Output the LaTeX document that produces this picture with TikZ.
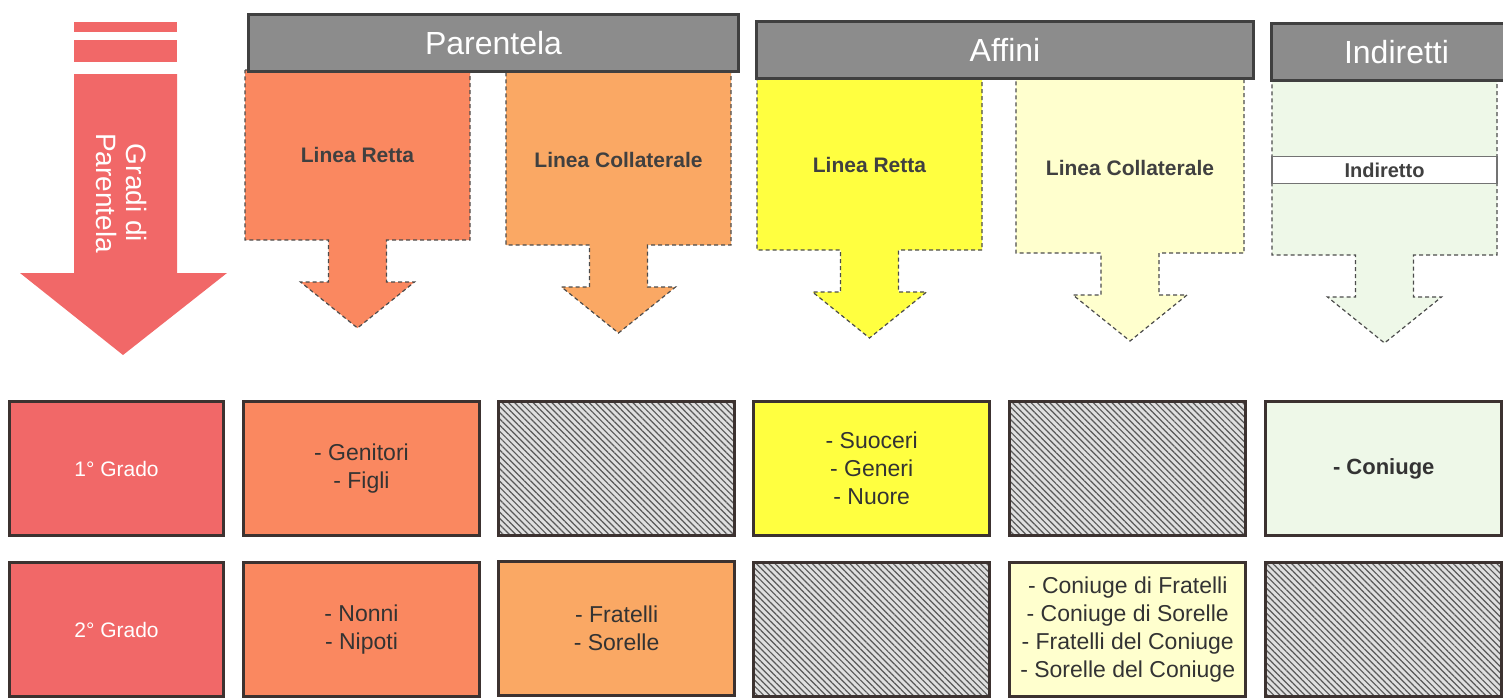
\documentclass[tikz,border=0pt]{standalone}
\usepackage{fontspec}
\setmainfont{Liberation Sans}
\usetikzlibrary{positioning,patterns.meta}

\definecolor{gradred}{RGB}{241,104,104}
\definecolor{rettared}{RGB}{250,136,96}
\definecolor{collorange}{RGB}{250,168,100}
\definecolor{affyellow}{RGB}{255,255,64}
\definecolor{afflight}{RGB}{255,255,206}
\definecolor{indgreen}{RGB}{238,248,232}
\definecolor{headgray}{RGB}{140,140,140}
\definecolor{boxline}{RGB}{60,50,48}

\tikzset{
  panel/.style={draw=black!70, dash pattern=on 2pt off 1.5pt, line width=0.6pt},
  lab/.style={font=\bfseries\fontsize{10.5}{12}\selectfont, text=black!75},
  indbox/.style={font=\bfseries\fontsize{10}{12}\selectfont, text=black!75, fill=white, draw=black!55, line width=0.8pt, minimum width=112.5pt, minimum height=13.5pt, inner sep=0pt},
  header/.style={draw=black!75, line width=1.5pt, fill=headgray, text=white, font=\fontsize{16}{18}\selectfont, anchor=north west, minimum height=28.5pt},
  cell/.style={draw=boxline, line width=1.5pt, minimum width=118pt, minimum height=67pt, inner sep=2pt, align=center, text=black!80, font=\fontsize{11.5}{14}\selectfont},
  grado/.style={cell, fill=gradred, text=white, minimum width=107pt, font=\fontsize{10.5}{12}\selectfont},
  hatch/.style={cell, preaction={fill=gray!25}, pattern={Lines[angle=-45,distance=2.2pt,line width=0.6pt]}, pattern color=black!65},
}

\begin{document}
\begin{tikzpicture}[x=0.5pt, y=-0.5pt, node distance=8.5pt]
  \useasboundingbox (0,0) rectangle (1503,697);

  % gradi di parentela
  \fill[gradred] (74,22) rectangle (177,32);
  \fill[gradred] (74,40) rectangle (177,62);
  \fill[gradred] (74,74) -- (177,74) -- (177,273) -- (227,273) -- (123,355) -- (20,273) -- (74,273) -- cycle;
  \node[rotate=-90, text=white, align=center, font=\fontsize{14}{15}\selectfont] (gradi) at (122,193) {Gradi di\\Parentela};

  % dashed arrow panels
  \foreach \l/\r/\t/\b/\col/\txt/\sty [count=\i] in {
    245/470/70/240/rettared/Linea Retta/lab,
    506/731/70/245/collorange/Linea Collaterale/lab,
    757/982/76/250/affyellow/Linea Retta/lab,
    1016/1244/76/253/afflight/Linea Collaterale/lab,
    1272/1497/78/255/indgreen/Indiretto/indbox}
  {
    \filldraw[panel, fill=\col] (\l,\t) -- (\r,\t) -- (\r,\b)
      -- ({(\l+\r)/2+29},\b) -- ({(\l+\r)/2+29},{\b+42}) -- ({(\l+\r)/2+57},{\b+42})
      -- ({(\l+\r)/2},{\b+88})
      -- ({(\l+\r)/2-57},{\b+42}) -- ({(\l+\r)/2-29},{\b+42}) -- ({(\l+\r)/2-29},\b)
      -- (\l,\b) -- cycle;
    \node[\sty] (lab\i) at ({(\l+\r)/2},{\b-85}) {\txt};
  }

  % headers
  \node[header, minimum width=245pt] (parentela) at (247,13) {Parentela};
  \node[header, minimum width=248.5pt] (affini) at (755,20) {Affini};
  \node[header, minimum width=125pt] (indiretti) at (1270,22) {Indiretti};

  % grid of degrees
  \node[grado, anchor=north west] (g11) at (8,400) {1° Grado};
  \node[cell, fill=rettared, right=of g11] (g12) {- Genitori\\- Figli};
  \node[hatch, right=of g12] (g13) {};
  \node[cell, fill=affyellow, right=of g13] (g14) {- Suoceri\\- Generi\\- Nuore};
  \node[hatch, right=of g14] (g15) {};
  \node[cell, fill=indgreen, font=\bfseries\fontsize{11}{14}\selectfont, right=of g15] (g16) {- Coniuge};

  \node[grado, below=12pt of g11] (g21) {2° Grado};
  \node[cell, fill=rettared, below=12pt of g12] (g22) {- Nonni\\- Nipoti};
  \node[cell, fill=collorange, below=12pt of g13] (g23) {- Fratelli\\- Sorelle};
  \node[hatch, below=12pt of g14] (g24) {};
  \node[cell, fill=afflight, below=12pt of g15] (g25) {- Coniuge di Fratelli\\- Coniuge di Sorelle\\- Fratelli del Coniuge\\- Sorelle del Coniuge};
  \node[hatch, below=12pt of g16] (g26) {};
\end{tikzpicture}
\end{document}
